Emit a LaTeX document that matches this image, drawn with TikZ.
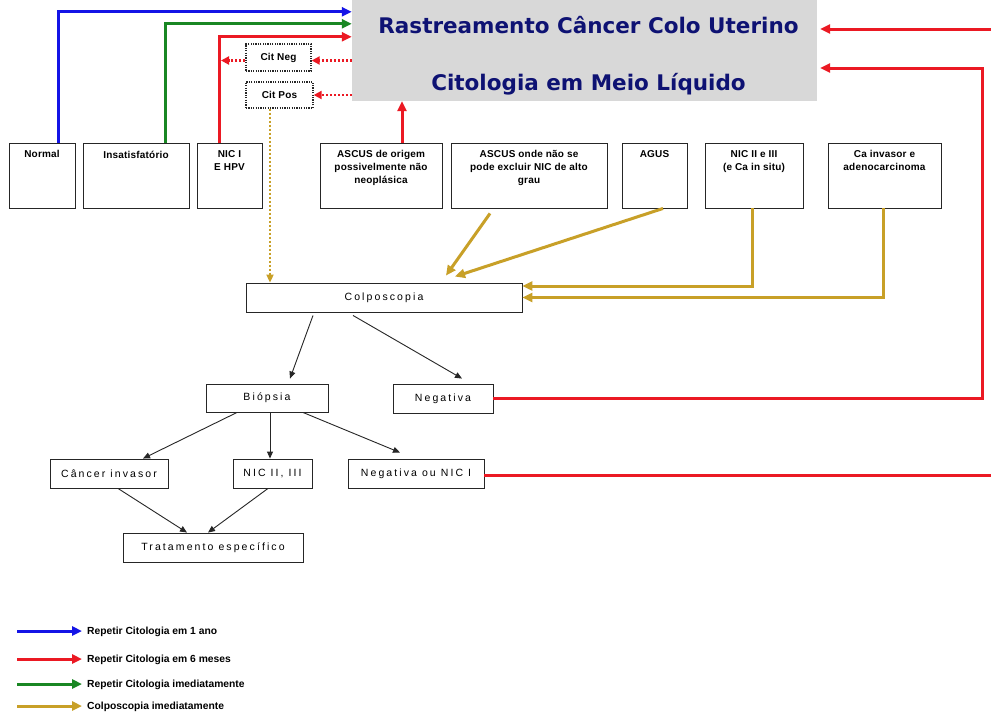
\documentclass[tikz,border=0pt]{standalone}
\usepackage{fontspec}
\setmainfont{Liberation Sans}
\newfontfamily\lblfont[LetterSpace=2]{Liberation Sans}
\newfontfamily\legfam{Liberation Sans}
\newfontfamily\bodyfont[LetterSpace=20]{Liberation Sans}
\newfontfamily\titlefont{DejaVu Sans}
\usetikzlibrary{arrows.meta}
\definecolor{cblue}{RGB}{20,20,230}
\definecolor{cred}{RGB}{235,25,35}
\definecolor{cgreen}{RGB}{25,135,35}
\definecolor{cgold}{RGB}{200,160,40}
\definecolor{ctitle}{RGB}{14,18,115}
\definecolor{cgray}{RGB}{216,216,216}
\newcommand\toplblfont{\lblfont\bfseries\fontsize{10}{12.5}\selectfont}
\newcommand\legfont{\legfam\bfseries\fontsize{10.3}{12}\selectfont}
\newcommand\bodytxt{\bodyfont\fontsize{10.5}{12}\selectfont}
\begin{document}
\begin{tikzpicture}[x=1pt,y=-1pt,
  box/.style={draw=black!85, line width=0.9pt, inner sep=0pt, fill=white},
  body/.style={font=\bodytxt},
  toplbl/.style={font=\toplblfont, align=center, inner sep=0pt, anchor=north, yshift=-8pt},
  dbox/.style={draw=black!85, line width=1.3pt, dash pattern=on 1.2pt off 1.2pt, inner sep=0pt, font=\toplblfont},
  cl/.style={line width=3pt, -{Triangle[length=10pt,width=9pt]}},
  dl/.style={cred, line width=2.4pt, dash pattern=on 2pt off 2pt, -{Triangle[length=8pt,width=8pt]}},
  gdl/.style={cgold, line width=2.6pt, dash pattern=on 2pt off 2pt, -{Triangle[length=8pt,width=7pt]}},
  ba/.style={black!85, line width=0.9pt, -{Triangle[length=7pt,width=6pt]}},
  legtxt/.style={font=\legfont, anchor=west, inner sep=0pt}
]
\useasboundingbox (0,0) rectangle (991,718);
\fill[white] (0,0) rectangle (991,718);

% title
\node[fill=cgray, minimum width=465, minimum height=101, inner sep=0pt] (title) at (584.5,50.5) {};
\node[font=\titlefont\bfseries\fontsize{21.5}{57}\selectfont, text=ctitle, align=center, inner sep=0pt] (ttxt) at (588.5,55.5) {Rastreamento Câncer Colo Uterino\\Citologia em Meio Líquido};

% top row
\node[box, minimum width=66, minimum height=65, label={[toplbl]north:Normal}] (normal) at (42,175.5) {};
\node[box, minimum width=106, minimum height=65, label={[toplbl]north:Insatisfatório}] (insat) at (136,175.5) {};
\node[box, minimum width=65, minimum height=65, label={[toplbl]north:NIC I\\E HPV}] (nic1) at (229.5,175.5) {};
\node[box, minimum width=122, minimum height=65, label={[toplbl]north:ASCUS de origem\\possivelmente não\\neoplásica}] (a1) at (381,175.5) {};
\node[box, minimum width=156, minimum height=65, label={[toplbl]north:ASCUS onde não se\\pode excluir NIC de alto\\grau}] (a2) at (529,175.5) {};
\node[box, minimum width=65, minimum height=65, label={[toplbl]north:AGUS}] (agus) at (654.5,175.5) {};
\node[box, minimum width=98, minimum height=65, label={[toplbl]north:NIC II e III\\(e Ca in situ)}] (nic2) at (754,175.5) {};
\node[box, minimum width=113, minimum height=65, label={[toplbl]north:Ca invasor e\\adenocarcinoma}] (ca) at (884.5,175.5) {};

% dotted boxes
\node[dbox, minimum width=65, minimum height=27] (cneg) at (278.5,57.5) {Cit Neg};
\node[dbox, minimum width=67, minimum height=26] (cpos) at (279.5,95) {Cit Pos};

% middle / lower
\node[box, body, minimum width=276, minimum height=29] (colpo) at (384,297.5) {Colposcopia};
\node[box, body, minimum width=122, minimum height=28] (biop) at (267,398) {Biópsia};
\node[box, body, minimum width=100, minimum height=29] (neg) at (443,398.5) {Negativa};
\node[box, body, minimum width=118, minimum height=29] (cinv) at (109,473.5) {Câncer invasor};
\node[box, body, minimum width=79, minimum height=29] (nic23) at (272.5,473.5) {NIC II, III};
\node[box, body, minimum width=136, minimum height=29] (nn) at (416,473.5) {Negativa ou NIC I};
\node[box, body, minimum width=180, minimum height=29] (trat) at (213,547.5) {Tratamento específico};

% colored connectors top-left
\draw[cl, cblue] ([xshift=16pt]normal.north) |- ([yshift=-12pt]title.north west);
\draw[cl, cgreen] ([xshift=29pt]insat.north) |- ([yshift=-24pt]title.north west);
\coordinate (rl) at ([xshift=-10.5pt]nic1.north);
\draw[cl, cred] (rl) |- ([yshift=-37pt]title.north west);

% dotted arrows
\draw[dl] ([yshift=-3pt]title.west |- cneg.east) -- ([yshift=-3pt]cneg.east);
\draw[dl, shorten >=2pt] ([yshift=-3pt]cneg.west) -- ([yshift=-3pt]cneg.west -| rl);
\draw[dl] (title.west |- cpos.east) -- (cpos.east);
\draw[gdl] ([xshift=-9.5pt]cpos.south) -- ([xshift=-9.5pt]cpos.south |- colpo.north);

% ASCUS 1 red
\draw[cl, cred] ([xshift=21pt]a1.north) -- ([xshift=21pt]a1.north |- title.south);

% gold to colposcopia
\draw[cl, cgold] ([xshift=-39pt,yshift=-5pt]a2.south) -- ([xshift=62pt,yshift=7pt]colpo.north);
\draw[cl, cgold] ([xshift=8.5pt]agus.south) -- ([xshift=71pt,yshift=6pt]colpo.north);
\draw[cl, cgold] ([xshift=-2pt]nic2.south) |- ([yshift=11.5pt]colpo.east);
\draw[cl, cgold] ([xshift=-1.5pt]ca.south) |- (colpo.east);

% black arrows
\draw[ba] ([xshift=-71pt,yshift=-3pt]colpo.south) -- ([xshift=23pt,yshift=5pt]biop.north);
\draw[ba] ([xshift=-31pt,yshift=-3pt]colpo.south) -- ([xshift=19pt,yshift=5pt]neg.north);
\draw[ba] ([xshift=-30pt]biop.south) -- ([xshift=34pt]cinv.north);
\draw[ba] ([xshift=3pt]biop.south) -- ([xshift=3pt]biop.south |- nic23.north);
\draw[ba] ([xshift=36pt]biop.south) -- ([xshift=-16pt,yshift=6pt]nn.north);
\draw[ba] ([xshift=9pt]cinv.south) -- ([xshift=-26pt]trat.north);
\draw[ba] ([xshift=-4.5pt]nic23.south) -- ([xshift=-5pt]trat.north);

% right red lines
\coordinate (r1) at (991,29);
\draw[cl, cred, shorten >=3pt] (r1) -- (r1 -| title.east);
\coordinate (rx) at (982,0);
\coordinate (t2) at ([yshift=-17.5pt]title.east);
\draw[cl, cred, shorten >=3pt] (neg.east) -- (neg.east -| rx) -- (rx |- t2) -- (t2);
\coordinate (r3) at (991,475);
\draw[line width=3pt, cred] ([yshift=-1.5pt]nn.east) -- ([yshift=-1.5pt]nn.east -| r3);

% legend
\node[legtxt] (l1) at (87,632) {Repetir Citologia em 1 ano};
\node[legtxt] (l2) at (87,660) {Repetir Citologia em 6 meses};
\node[legtxt] (l3) at (87,685) {Repetir Citologia imediatamente};
\node[legtxt] (l4) at (87,707) {Colposcopia imediatamente};
\coordinate (ls) at (17,0);
\draw[cl, cblue] ([yshift=1pt]ls |- l1.west) -- ([xshift=-5pt,yshift=1pt]l1.west);
\draw[cl, cred] ([yshift=1pt]ls |- l2.west) -- ([xshift=-5pt,yshift=1pt]l2.west);
\draw[cl, cgreen] ([yshift=1pt]ls |- l3.west) -- ([xshift=-5pt,yshift=1pt]l3.west);
\draw[cl, cgold] ([yshift=1pt]ls |- l4.west) -- ([xshift=-5pt,yshift=1pt]l4.west);
\end{tikzpicture}
\end{document}
